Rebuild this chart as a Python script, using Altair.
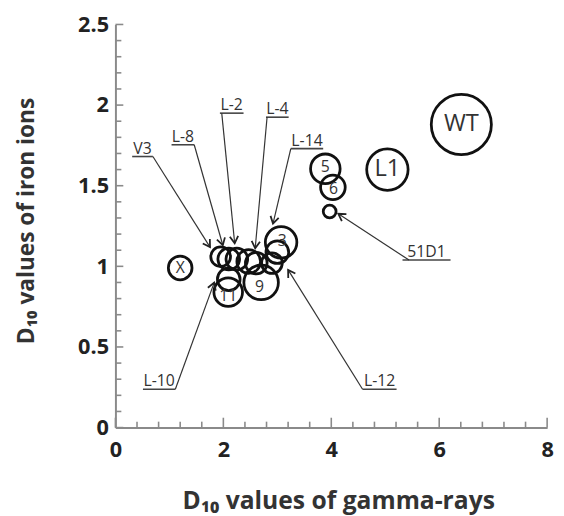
import math
import altair as alt
import pandas as pd

# ---- data ----
# bubbles (x = D10 gamma-rays, y = D10 iron ions, r = relative bubble radius)
circ_x = [6.41, 5.04, 3.89, 4.03, 3.97, 1.20, 3.07, 3.00, 2.90, 2.70, 2.09, 2.10, 1.95, 2.10, 2.25, 2.47, 2.61]
circ_y = [1.88, 1.60, 1.605, 1.49, 1.34, 0.99, 1.149, 1.088, 1.02, 0.90, 0.84, 0.92, 1.06, 1.045, 1.045, 1.03, 1.02]
circ_r = [30.5, 21, 15, 12.5, 6.5, 12, 16, 11.5, 10.5, 17.5, 14.5, 11.5, 10, 11, 11, 12, 11]

# labels written inside the bubbles
big_lab = ["WT", "L1"]
big_x = [6.41, 5.04]
big_y = [1.88, 1.60]
small_lab = ["5", "6", "X", "3", "9", "11"]
small_x = [3.89, 4.04, 1.20, 3.09, 2.67, 2.09]
small_y = [1.615, 1.48, 0.99, 1.155, 0.87, 0.815]

# call-out labels with underline and leader arrow
cl_text = ["V3", "L-8", "L-2", "L-4", "L-14", "L-10", "L-12", "51D1"]
ul_x0 = [0.31, 1.04, 1.936, 2.79, 3.25, 0.51, 4.58, 5.32]
ul_x1 = [0.694, 1.46, 2.374, 3.21, 3.85, 1.11, 5.21, 6.21]
ul_y = [1.681, 1.754, 1.95, 1.925, 1.73, 0.238, 0.238, 1.039]
ld_x = [0.694, 1.46, 1.97, 2.81, 3.25, 1.11, 4.58, 5.44]
tip_x = [1.753, 1.99, 2.21, 2.59, 2.92, 1.83, 3.20, 4.13]
tip_y = [1.119, 1.131, 1.143, 1.112, 1.265, 0.899, 0.978, 1.326]

# axis ticks
x_major = [0, 2, 4, 6, 8]
x_minor = [0.4, 0.8, 1.2, 1.6, 2.4, 2.8, 3.2, 3.6, 4.4, 4.8, 5.2, 5.6, 6.4, 6.8, 7.2, 7.6]
y_major = [0, 0.5, 1, 1.5, 2, 2.5]
y_minor = [0.1, 0.2, 0.3, 0.4, 0.6, 0.7, 0.8, 0.9, 1.1, 1.2, 1.3, 1.4,
           1.6, 1.7, 1.8, 1.9, 2.1, 2.2, 2.3, 2.4]

W, H = 438, 409
XD = [0, 8]
YD = [0, 2.5]
FONT = "Open Sans"

xs = alt.Scale(domain=XD, nice=False, zero=False)
ys = alt.Scale(domain=YD, nice=False, zero=False)

circles = pd.DataFrame({"x": circ_x, "y": circ_y, "r": circ_r})
big = pd.DataFrame({"t": big_lab, "x": big_x, "y": big_y})
small = pd.DataFrame({"t": small_lab, "x": small_x, "y": small_y})
cl = pd.DataFrame({"t": cl_text, "x0": ul_x0, "x1": ul_x1, "y": ul_y,
                   "lx": ld_x, "tx": tip_x, "ty": tip_y})
cl["xm"] = (cl["x0"] + cl["x1"]) / 2
pxx = W / (XD[1] - XD[0])
pxy = H / (YD[1] - YD[0])
cl["ang"] = [
    (math.degrees(math.atan2(-(tx - lx) * pxx, -(ty - y) * pxy))) % 360
    for lx, y, tx, ty in zip(cl["lx"], cl["y"], cl["tx"], cl["ty"])
]

x_axis = alt.Axis(values=x_major, ticks=False, grid=False, domainColor="#8a8a8a",
                  domainWidth=2, labelFont=FONT, labelFontWeight="bold",
                  labelFontSize=22, labelColor="#222", labelPadding=12,
                  title="D₁₀ values of gamma-rays", titleFont=FONT,
                  titleFontWeight="bold", titleFontSize=25, titleColor="#333",
                  titleX=226, titleY=82, titleBaseline="alphabetic",
                  labelFlush=False)
y_axis = alt.Axis(values=y_major, format="~g", ticks=False, grid=False,
                  domainColor="#8a8a8a", domainWidth=2, labelFont=FONT,
                  labelFontWeight="bold", labelFontSize=22, labelColor="#222",
                  labelPadding=7, title="D₁₀ values of iron ions", titleFont=FONT,
                  titleFontWeight="bold", titleFontSize=23, titleColor="#333",
                  titleAngle=270, titleX=-83, titleY=199, titleAlign="center",
                  titleBaseline="alphabetic", labelFlush=False)

bub = alt.Chart(circles).mark_point(shape="circle", filled=False, color="#111",
                                    strokeWidth=2.8, opacity=1).encode(
    x=alt.X("x:Q", scale=xs, axis=x_axis),
    y=alt.Y("y:Q", scale=ys, axis=y_axis),
    size=alt.Size("r:Q", scale=alt.Scale(type="pow", exponent=2, domain=[0, 32],
                                         range=[0, 4096]), legend=None),
)

big_t = alt.Chart(big).mark_text(font=FONT, fontSize=24, color="#333",
                                 baseline="middle").encode(
    x=alt.X("x:Q", scale=xs), y=alt.Y("y:Q", scale=ys), text="t:N")
small_t = alt.Chart(small).mark_text(font=FONT, fontSize=16, color="#333",
                                     baseline="middle").encode(
    x=alt.X("x:Q", scale=xs), y=alt.Y("y:Q", scale=ys), text="t:N")

under = alt.Chart(cl).mark_rule(color="#444", strokeWidth=1.6).encode(
    x=alt.X("x0:Q", scale=xs), x2="x1:Q", y=alt.Y("y:Q", scale=ys))
leader = alt.Chart(cl).mark_rule(color="#333", strokeWidth=1.2).encode(
    x=alt.X("lx:Q", scale=xs), x2="tx:Q", y=alt.Y("y:Q", scale=ys), y2="ty:Q")
heads = alt.Chart(cl).mark_point(shape="M-0.6,-1L0,0L0.6,-1", filled=False,
                                 color="#222", strokeWidth=1.8, size=200,
                                 opacity=1).encode(
    x=alt.X("tx:Q", scale=xs), y=alt.Y("ty:Q", scale=ys), angle=alt.Angle("ang:Q", scale=None))
cl_t = alt.Chart(cl).mark_text(font=FONT, fontSize=16, color="#333",
                               baseline="bottom", dy=0).encode(
    x=alt.X("xm:Q", scale=xs), y=alt.Y("y:Q", scale=ys), text="t:N")

xmaj = alt.Chart(pd.DataFrame({"v": x_major})).mark_rule(color="#8a8a8a", strokeWidth=1.6).encode(
    x=alt.X("v:Q", scale=xs), y=alt.value(H), y2=alt.value(H - 10))
xmin = alt.Chart(pd.DataFrame({"v": x_minor})).mark_rule(color="#8a8a8a", strokeWidth=1.6).encode(
    x=alt.X("v:Q", scale=xs), y=alt.value(H), y2=alt.value(H - 6))
ymaj = alt.Chart(pd.DataFrame({"v": y_major})).mark_rule(color="#8a8a8a", strokeWidth=1.6).encode(
    y=alt.Y("v:Q", scale=ys), x=alt.value(0), x2=alt.value(8))
ymin = alt.Chart(pd.DataFrame({"v": y_minor})).mark_rule(color="#8a8a8a", strokeWidth=1.6).encode(
    y=alt.Y("v:Q", scale=ys), x=alt.value(0), x2=alt.value(6))

chart = alt.layer(bub, xmaj, xmin, ymaj, ymin, under, leader, heads, cl_t, big_t, small_t).properties(
    width=W, height=H,
    autosize=alt.AutoSizeParams(type="none"),
    padding={"left": 109, "top": 13, "right": 9, "bottom": 86},
    background="white",
).configure_view(stroke=None)

chart.save("out.html", embed_options={"renderer": "svg", "actions": False})
